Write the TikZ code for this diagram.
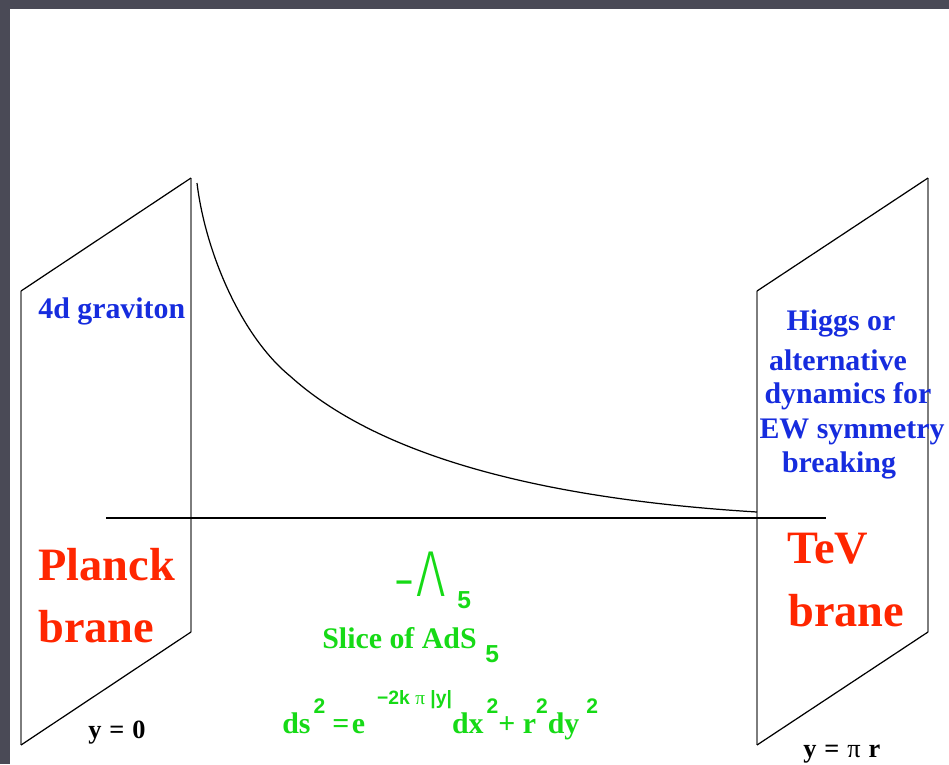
\documentclass[tikz,border=0pt]{standalone}
\usepackage{fontspec}
\setmainfont{Liberation Serif}
\setsansfont{Liberation Sans}
\newfontfamily\thinfont{Fira Sans Light}
\usetikzlibrary{positioning}
\definecolor{slidebg}{RGB}{74,74,86}
\definecolor{branered}{RGB}{255,38,0}
\definecolor{textblue}{RGB}{22,44,222}
\definecolor{adsgreen}{RGB}{22,218,22}
\definecolor{branegray}{RGB}{125,125,125}
\newcommand{\ptsize}[2]{\fontsize{#1}{#2}\selectfont}
\newcommand{\idxfont}{\sffamily\bfseries\ptsize{12}{12}}

\begin{document}
\begin{tikzpicture}[x=0.02cm, y=-0.02cm,
  upright/.style={line width=1.1pt, branegray},
  slant/.style={line width=0.7pt, black},
  label/.style={inner sep=0pt, anchor=base west, font=\bfseries\ptsize{17}{20}},
  higgsline/.style={label, textblue, anchor=base},
  branename/.style={label, branered, font=\bfseries\ptsize{26.4}{30}}]
  \useasboundingbox (0,0) rectangle (949,764);
  \fill[slidebg] (0,0) rectangle (949,764);
  \fill[white] (10,9) rectangle (949,764);

  \coordinate (pl-tl) at (21,291);  \coordinate (pl-tr) at (191,178);
  \coordinate (pl-br) at (191,632); \coordinate (pl-bl) at (21,745);
  \coordinate (tv-tl) at (757,291); \coordinate (tv-tr) at (928,178);
  \coordinate (tv-br) at (928,632); \coordinate (tv-bl) at (757,745);
  \coordinate (axis-l) at (106,518); \coordinate (axis-r) at (826,518);
  \coordinate (warp-top) at (197,183);
  \coordinate (warp-knee) at (290,376);
  \coordinate (warp-end) at (757,512);

  \draw[upright] (pl-tl) -- (pl-bl);
  \draw[upright] (pl-tr) -- (pl-br);
  \draw[slant] (pl-tl) -- (pl-tr);
  \draw[slant] (pl-bl) -- (pl-br);
  \draw[upright] (tv-tl) -- (tv-bl);
  \draw[upright] (tv-tr) -- (tv-br);
  \draw[slant] (tv-tl) -- (tv-tr);
  \draw[slant] (tv-bl) -- (tv-br);
  \draw[slant] (axis-l) -- (axis-r);
  \draw[slant] (warp-top) .. controls (205,250) and (240,335) .. (warp-knee)
        .. controls (385,462) and (560,500) .. (warp-end);

  \node[label, textblue] (graviton) at (38,318) {4d graviton};
  \node[higgsline] (higgs-1) at (841,330) {Higgs or};
  \node[higgsline] (higgs-2) at (838,370) {alternative};
  \node[higgsline] (higgs-3) at (848,403) {dynamics for};
  \node[higgsline] (higgs-4) at (852,438) {EW symmetry};
  \node[higgsline] (higgs-5) at (839,472) {breaking};
  \node[branename] (planck-1) at (38,580) {Planck};
  \node[branename] (planck-2) at (38,642) {brane};
  \node[branename] (tev-1) at (787,563) {TeV};
  \node[branename] (tev-2) at (788,626) {brane};
  \node[label, font=\bfseries\ptsize{15}{15}] (y-zero) at (88,738) {y\hspace{4.5pt}=\hspace{4.5pt}0};
  \node[label, font=\bfseries\ptsize{15}{15}] (y-pir) at (803,757)
        {y\hspace{4.5pt}=\hspace{4.5pt}{\mdseries π}\hspace{4.5pt}r};

  \node[label, adsgreen, font=\sffamily\bfseries\ptsize{17}{17}] (minus) at (395,592) {−};
  \node[inner sep=0pt, anchor=south, adsgreen] (lambda) at (431.5,597)
        {\thinfont\ptsize{37}{37}\scalebox{0.8}[1]{Λ}};
  \node[label, adsgreen, font=\sffamily\bfseries\ptsize{14}{14}] (lambda-idx) at (457,608) {5};
  \node[label, adsgreen] (slice) at (322,648) {Slice of AdS};
  \node[label, adsgreen, font=\sffamily\bfseries\ptsize{14}{14}] (slice-idx) at (485,662) {5};
  \node[label, adsgreen] (metric) at (282,733)
        {ds\hspace{1.7pt}\raisebox{11.3pt}{\idxfont 2}\hspace{4pt}=\hspace{1.5pt}e\hspace{6.8pt}%
         \raisebox{16pt}{\sffamily\bfseries\ptsize{11}{11}−2k {\rmfamily\mdseries π} |y|}%
         dx\hspace{1.7pt}\raisebox{11.3pt}{\idxfont 2}+ r\raisebox{11.3pt}{\idxfont 2}%
         dy\hspace{4pt}\raisebox{11.3pt}{\idxfont 2}};
\end{tikzpicture}
\end{document}
